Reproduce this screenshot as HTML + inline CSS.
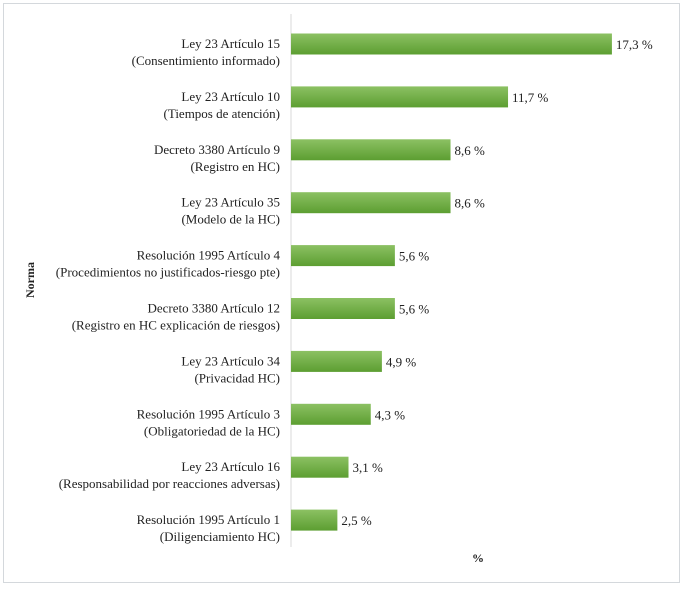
<!DOCTYPE html>
<html><head><meta charset="utf-8"><style>
body{margin:0;background:#fff;}
svg text{font-family:"Liberation Serif",serif;fill:#222;}
</style></head><body>
<svg width="683" height="586">
<defs><linearGradient id="g" x1="0" y1="0" x2="0" y2="1"><stop offset="0" stop-color="#8cc163"/><stop offset="1" stop-color="#5c9e31"/></linearGradient></defs>
<rect x="3.5" y="3.5" width="676" height="579" fill="#fff" stroke="#d4d8dc"/>
<line x1="291" y1="14" x2="291" y2="547" stroke="#d9d9d9"/>
<text transform="translate(34,280) rotate(-90)" text-anchor="middle" font-size="12" font-weight="bold">Norma</text>
<text x="478" y="562" text-anchor="middle" font-size="12" font-weight="bold" font-family="Liberation Sans">%</text>
<g id="bars"></g>
</svg>
<script>
const line1=["Ley 23 Artículo 15","Ley 23 Artículo 10","Decreto 3380 Artículo 9","Ley 23 Artículo 35","Resolución 1995 Artículo 4","Decreto 3380 Artículo 12","Ley 23 Artículo 34","Resolución 1995 Artículo 3","Ley 23 Artículo 16","Resolución 1995 Artículo 1"];
const line2=["(Consentimiento informado)","(Tiempos de atención)","(Registro en HC)","(Modelo de la HC)","(Procedimientos no justificados-riesgo pte)","(Registro en HC explicación de riesgos)","(Privacidad HC)","(Obligatoriedad de la HC)","(Responsabilidad por reacciones adversas)","(Diligenciamiento HC)"];
const values=[17.3,11.7,8.6,8.6,5.6,5.6,4.9,4.3,3.1,2.5];
const valueLabels=["17,3 %","11,7 %","8,6 %","8,6 %","5,6 %","5,6 %","4,9 %","4,3 %","3,1 %","2,5 %"];
const x=v=>291+v*18.55;
const y=i=>44+i*52.9;
const ns="http://www.w3.org/2000/svg",g=document.getElementById('bars');
function mk(t,a){const e=document.createElementNS(ns,t);for(const k in a)e.setAttribute(k,a[k]);g.appendChild(e);return e;}
values.forEach((v,i)=>{
 const r=mk('rect',{x:291,y:y(i)-10.5,width:x(v)-291,height:21,fill:'url(#g)'});
 
 
 const t=mk('text',{x:x(v)+4,y:y(i)+5,'font-size':13});t.textContent=valueLabels[i];
 
 
 const a=mk('text',{x:280,y:y(i)+4,'text-anchor':'end','font-size':13});a.textContent=line1[i];
 
 
 const b=mk('text',{x:280,y:y(i)+21,'text-anchor':'end','font-size':13});b.textContent=line2[i];
 
 
});
</script>
</body></html>
